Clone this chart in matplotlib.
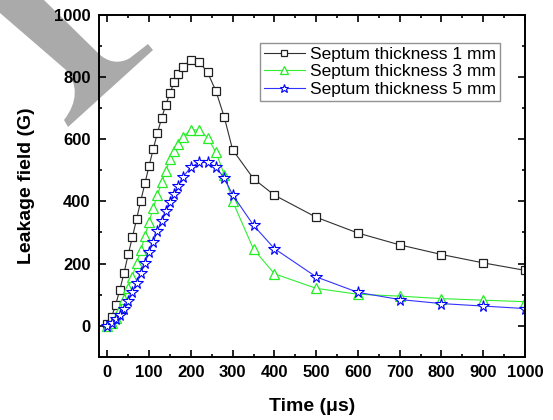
import numpy as np
import matplotlib
matplotlib.use('Agg')
import matplotlib.pyplot as plt
from matplotlib.path import Path
from matplotlib.patches import PathPatch

plt.rcParams['font.family'] = ['Liberation Sans', 'DejaVu Sans']

# Время, мкс
t_1mm = [0, 10, 20, 30, 40, 50, 60, 70, 80, 90, 100, 110, 120, 130, 140, 150, 160, 170, 180,
         200, 220, 240, 260, 280, 300, 350, 400, 500, 600, 700, 800, 900, 1000]
t_3mm = t_1mm
t_5mm = t_1mm

# Поле утечки, Гс
b_1mm = [5, 27, 68, 116, 170, 230, 285, 343, 402, 458, 515, 569, 621, 668, 711, 749, 784, 811, 833,
         855, 849, 815, 755, 671, 566, 473, 420, 349, 298, 260, 229, 202, 178]
b_3mm = [0, 8, 25, 55, 85, 120, 158, 203, 242, 289, 334, 380, 421, 461, 499, 537, 563, 585, 607,
         630, 630, 605, 558, 486, 400, 246, 167, 120, 101, 95, 87, 82, 77]
b_5mm = [0, 8, 20, 35, 55, 80, 108, 138, 170, 202, 238, 270, 305, 337, 369, 398, 423, 448, 477,
         510, 526, 526, 510, 475, 421, 323, 248, 157, 107, 84, 71, 63, 55]

labels = ['Septum thickness 1 mm', 'Septum thickness 3 mm', 'Septum thickness 5 mm']

W, H = 553, 420
fig = plt.figure(figsize=(W / 100, H / 100), dpi=100)
fig.patch.set_facecolor('white')
ax = fig.add_axes([99 / W, 1 - 356.7 / H, (525 - 99) / W, (356.7 - 15) / H])
ax.set_facecolor('none')

# Серая фигура в левом верхнем углу (в пикселях, ось y вниз)
verts = [(0, 0), (44, 0), (98, 53),
         (108, 63), (120, 64), (130, 58),
         (148, 44), (153, 50), (68, 127), (64, 120),
         (78, 102), (78, 84), (66, 70),
         (0, 13), (0, 0)]
codes = [Path.MOVETO, Path.LINETO, Path.LINETO,
         Path.CURVE4, Path.CURVE4, Path.CURVE4,
         Path.LINETO, Path.LINETO, Path.LINETO, Path.LINETO,
         Path.CURVE4, Path.CURVE4, Path.CURVE4,
         Path.LINETO, Path.CLOSEPOLY]
verts = [(x / W, 1 - y / H) for x, y in verts]
shape = PathPatch(Path(verts, codes), transform=fig.transFigure,
                  facecolor='#aaaaaa', edgecolor='none', zorder=-1)
fig.add_artist(shape)

ax.plot(t_1mm, b_1mm, color='#303030', lw=0.8, marker='s', ms=5.5,
        mfc='white', mec='#202020', mew=0.9, label=labels[0])
ax.plot(t_3mm, b_3mm, color='#33ee33', lw=0.8, marker='^', ms=7.5,
        mfc='white', mec='#22ee22', mew=0.9, label=labels[1])
ax.plot(t_5mm, b_5mm, color='#3333ff', lw=0.8, marker='*', ms=8.5,
        mfc='white', mec='#0000ff', mew=0.8, label=labels[2])

ax.set_xlim(-20, 1000)
ax.set_ylim(-100, 1000)
ax.set_xticks(np.arange(0, 1001, 100))
ax.set_xticks(np.arange(0, 1001, 50), minor=True)
ax.set_yticks(np.arange(0, 1001, 200))
ax.set_yticks(np.arange(-100, 1001, 100), minor=True)

for s in ax.spines.values():
    s.set_linewidth(1.4)
ax.tick_params(which='both', direction='in', top=True, right=True, width=1.2,
               labelsize=12, pad=6)
ax.tick_params(which='major', length=5)
ax.tick_params(which='minor', length=2.5)
for lab in ax.get_xticklabels() + ax.get_yticklabels():
    lab.set_fontweight('bold')

ax.set_xlabel('Time (μs)', fontsize=14, fontweight='bold', labelpad=13)
ax.set_ylabel('Leakage field (G)', fontsize=14, fontweight='bold', labelpad=14)

leg = ax.legend(loc='upper right', bbox_to_anchor=(0.941, 0.918), fontsize=12.5,
                frameon=True, fancybox=False, edgecolor='#777777', borderpad=0.2,
                labelspacing=0.15, handletextpad=0.3, handlelength=2.4,
                borderaxespad=0, markerscale=0.75)
leg.get_frame().set_linewidth(1.0)

fig.savefig('out.png', dpi=100)
